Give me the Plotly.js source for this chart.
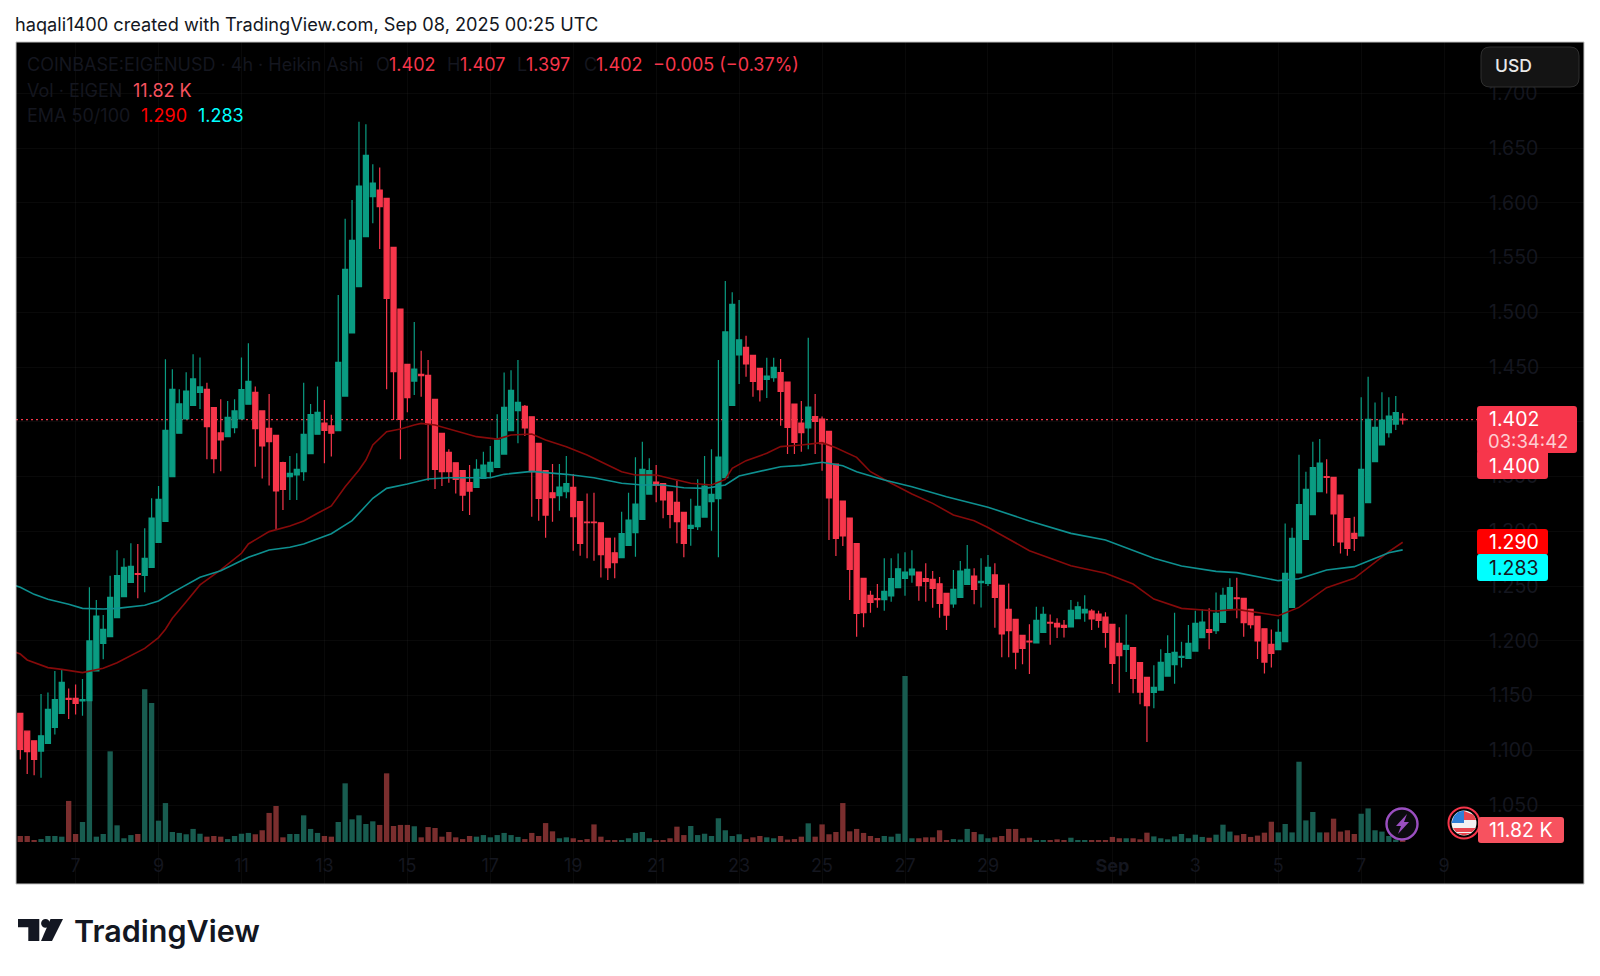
<!DOCTYPE html>
<html>
<head>
    <meta charset='utf-8'>
    <title>COINBASE:EIGENUSD</title>
    <script src="https://cdn.plot.ly/plotly-3.0.1.min.js"></script>
    <style>
        html, body { margin:0; padding:0; background:#fff; }
        #chartDiv { width:1600px; height:976px; }
    </style>
</head>
<body>
    <div id="chartDiv"></div>

    <script>
        // 4h Heikin Ashi candles, first one is Aug 5 16:00 UTC
        const startTime = Date.UTC(2025, 7, 5, 16);
        const opens = [
            1.1337,1.1175,1.1087,1.0993,1.1064,1.1209,1.1337,1.1474,1.1474,1.1452,
            1.1453,1.1724,1.1977,1.2038,1.2211,1.2403,1.2534,1.2613,1.2598,1.2671,
            1.2899,1.3091,1.3499,1.3895,1.4026,1.4150,1.4269,1.4296,1.4129,1.3898,
            1.3864,1.3946,1.4026,1.4160,1.4269,1.4099,1.3940,1.3876,1.3627,1.3499,
            1.3514,1.3545,1.3709,1.3886,1.3989,1.3962,1.3919,1.4235,1.4811,1.5234,
            1.5690,1.6056,1.6116,1.6040,1.5593,1.5030,1.4524,1.4372,1.4433,1.4424,
            1.4205,1.3894,1.3721,1.3626,1.3553,1.3444,1.3401,1.3483,1.3544,1.3584,
            1.3705,1.3919,1.4101,1.4141,1.4046,1.3803,1.3553,1.3352,1.3325,1.3361,
            1.3401,1.3270,1.3084,1.3084,1.3078,1.2935,1.2804,1.2759,1.2871,1.2987,
            1.3109,1.3340,1.3450,1.3435,1.3359,1.3264,1.3173,1.3027,1.3042,1.3130,
            1.3270,1.3298,1.3490,1.4150,1.4610,1.4680,1.4607,1.4488,1.4388,1.4403,
            1.4448,1.4363,1.4162,1.3989,1.3943,1.4047,1.4025,1.3913,1.3614,1.3276,
            1.3121,1.2887,1.2570,1.2415,1.2385,1.2375,1.2409,1.2485,1.2570,1.2601,
            1.2628,1.2567,1.2561,1.2521,1.2433,1.2336,1.2397,1.2515,1.2591,1.2531,
            1.2525,1.2601,1.2506,1.2287,1.2196,1.2050,1.1998,1.1980,1.2077,1.2168,
            1.2159,1.2141,1.2126,1.2202,1.2254,1.2272,1.2244,1.2217,1.2150,1.1977,
            1.1922,1.1937,1.1800,1.1666,1.1529,1.1550,1.1678,1.1782,1.1849,1.1840,
            1.1906,1.2028,1.2101,1.2092,1.2168,1.2293,1.2393,1.2387,1.2287,1.2223,
            1.2110,1.1967,1.1919,1.1992,1.2305,1.2619,1.2926,1.3152,1.3362,1.3499,
            1.3492,1.3331,1.3115,1.2981,1.2957,1.3261,1.3636,1.3788,1.3900,1.3979,
            1.4024];
        const highs = [
            1.1337,1.1175,1.1087,1.1513,1.1528,1.1723,1.1741,1.1565,1.1601,1.1650,
            1.2488,1.2373,1.2236,1.2595,1.2826,1.2753,1.2890,1.2884,1.3027,1.3301,
            1.3414,1.4570,1.4479,1.4296,1.4452,1.4616,1.4586,1.4357,1.4129,1.4205,
            1.4190,1.4205,1.4586,1.4717,1.4321,1.4099,1.4254,1.3876,1.3636,1.3688,
            1.3712,1.4357,1.4163,1.4321,1.4199,1.4065,1.5158,1.5855,1.6025,1.6740,
            1.6716,1.6351,1.6323,1.6040,1.5593,1.5030,1.4524,1.4911,1.4649,1.4564,
            1.4205,1.3894,1.3748,1.3626,1.3553,1.3605,1.3657,1.3727,1.3778,1.4068,
            1.4451,1.4470,1.4564,1.4153,1.4046,1.3803,1.3553,1.3614,1.3614,1.3687,
            1.3523,1.3270,1.3346,1.3352,1.3078,1.2935,1.2944,1.3179,1.3352,1.3675,
            1.3818,1.3666,1.3605,1.3435,1.3359,1.3462,1.3173,1.3298,1.3474,1.3687,
            1.3748,1.4564,1.5286,1.5182,1.5112,1.4786,1.4607,1.4488,1.4585,1.4585,
            1.4573,1.4363,1.4162,1.4190,1.4768,1.4254,1.4047,1.3913,1.3614,1.3276,
            1.3121,1.2887,1.2570,1.2458,1.2518,1.2753,1.2753,1.2798,1.2808,1.2826,
            1.2628,1.2707,1.2637,1.2582,1.2433,1.2646,1.2728,1.2875,1.2662,1.2753,
            1.2783,1.2707,1.2506,1.2524,1.2196,1.2050,1.2150,1.2311,1.2311,1.2241,
            1.2205,1.2190,1.2372,1.2357,1.2415,1.2287,1.2275,1.2260,1.2150,1.2123,
            1.2241,1.1937,1.1800,1.1666,1.1776,1.1922,1.2050,1.2257,1.1992,1.2144,
            1.2275,1.2287,1.2296,1.2442,1.2485,1.2570,1.2576,1.2387,1.2287,1.2223,
            1.2110,1.2104,1.2196,1.3072,1.3033,1.3699,1.3544,1.3818,1.3843,1.3657,
            1.3492,1.3331,1.3115,1.3133,1.4223,1.4412,1.4177,1.4269,1.4223,1.4235,
            1.4077];
        const lows = [
            1.0917,1.0783,1.0773,1.0749,1.1064,1.1145,1.1337,1.1285,1.1327,1.1315,
            1.1453,1.1724,1.1831,1.2038,1.2211,1.2403,1.2534,1.2388,1.2443,1.2671,
            1.2899,1.3091,1.3499,1.3895,1.4026,1.4150,1.4117,1.3657,1.3529,1.3548,
            1.3864,1.3895,1.4026,1.4160,1.3590,1.3481,1.3417,1.3012,1.3195,1.3286,
            1.3286,1.3462,1.3709,1.3886,1.3621,1.3682,1.3919,1.4235,1.4811,1.5234,
            1.5690,1.5812,1.5578,1.4296,1.4016,1.3657,1.4086,1.4244,1.4229,1.3462,
            1.3386,1.3413,1.3444,1.3346,1.3185,1.3148,1.3401,1.3483,1.3492,1.3584,
            1.3705,1.3919,1.3803,1.3870,1.3133,1.3097,1.2941,1.3088,1.3188,1.3301,
            1.2823,1.2777,1.2753,1.2731,1.2579,1.2555,1.2570,1.2759,1.2871,1.2768,
            1.3109,1.3340,1.3264,1.3118,1.3027,1.2890,1.2762,1.2868,1.3012,1.3130,
            1.3005,1.2762,1.3490,1.4150,1.4345,1.4412,1.4229,1.4184,1.4217,1.4366,
            1.3964,1.3706,1.3706,1.3727,1.3748,1.3706,1.3553,1.2920,1.2774,1.2866,
            1.2372,1.2037,1.2123,1.2257,1.2302,1.2275,1.2357,1.2485,1.2412,1.2531,
            1.2366,1.2357,1.2302,1.2211,1.2098,1.2302,1.2397,1.2515,1.2333,1.2305,
            1.2500,1.2120,1.1849,1.1849,1.1739,1.1785,1.1696,1.1980,1.2077,1.1964,
            1.2025,1.2031,1.2126,1.2202,1.2174,1.2098,1.2120,1.1937,1.1605,1.1526,
            1.1715,1.1520,1.1420,1.1075,1.1383,1.1550,1.1678,1.1608,1.1757,1.1840,
            1.1906,1.2028,1.1922,1.2062,1.2168,1.2293,1.2205,1.2037,1.2113,1.1833,
            1.1702,1.1757,1.1919,1.1992,1.2305,1.2619,1.2926,1.3152,1.3362,1.3346,
            1.2865,1.2798,1.2777,1.2820,1.2957,1.3261,1.3636,1.3788,1.3857,1.3924,
            1.3976];
        const closes = [
            1.1008,1.0987,1.0917,1.1133,1.1374,1.1464,1.1620,1.1465,1.1428,1.1464,
            1.1999,1.2226,1.2105,1.2397,1.2595,1.2671,1.2680,1.2607,1.2753,1.3121,
            1.3292,1.3922,1.4296,1.4163,1.4281,1.4391,1.4318,1.3956,1.3663,1.3834,
            1.4041,1.4099,1.4293,1.4370,1.3937,1.3779,1.3819,1.3368,1.3383,1.3529,
            1.3566,1.3886,1.4065,1.4086,1.3922,1.3895,1.4543,1.5392,1.5657,1.6153,
            1.6433,1.6180,1.5964,1.5127,1.4457,1.4022,1.4220,1.4482,1.4421,1.3979,
            1.3565,1.3544,1.3544,1.3474,1.3331,1.3367,1.3565,1.3605,1.3629,1.3833,
            1.4132,1.4287,1.4177,1.3943,1.3544,1.3300,1.3148,1.3307,1.3404,1.3435,
            1.3133,1.2890,1.3078,1.3078,1.2786,1.2667,1.2713,1.2978,1.3103,1.3249,
            1.3566,1.3553,1.3422,1.3286,1.3155,1.3088,1.2890,1.3054,1.3228,1.3413,
            1.3337,1.3678,1.4820,1.5072,1.4747,1.4528,1.4369,1.4293,1.4418,1.4497,
            1.4278,1.3949,1.3812,1.3900,1.4135,1.4004,1.3800,1.3304,1.2935,1.2957,
            1.2652,1.2251,1.2257,1.2351,1.2375,1.2451,1.2567,1.2658,1.2628,1.2655,
            1.2503,1.2543,1.2479,1.2342,1.2235,1.2470,1.2637,1.2652,1.2470,1.2543,
            1.2671,1.2397,1.2062,1.2092,1.1897,1.1931,1.1989,1.2187,1.2241,1.2162,
            1.2126,1.2123,1.2278,1.2311,1.2287,1.2199,1.2187,1.2077,1.1794,1.1864,
            1.1958,1.1657,1.1532,1.1407,1.1575,1.1803,1.1882,1.1894,1.1858,1.1977,
            1.2159,1.2171,1.2077,1.2250,1.2415,1.2485,1.2384,1.2165,1.2147,1.1998,
            1.1806,1.1885,1.2077,1.2616,1.2935,1.3243,1.3383,1.3581,1.3623,1.3492,
            1.3158,1.2902,1.2844,1.2935,1.3566,1.4022,1.3949,1.4016,1.4052,1.4083,
            1.4018];
        // volume in thousands
        const volumes = [
            45,45,12,22,45,45,40,308,60,150,
            1125,40,60,680,125,28,52,60,1145,1042,
            160,292,75,68,58,98,62,40,45,40,
            22,45,62,68,58,88,218,270,35,60,
            60,200,98,68,45,40,150,440,170,200,
            135,155,128,515,120,128,128,118,35,112,
            105,40,75,35,22,45,40,52,35,52,
            68,52,38,22,68,45,142,80,28,35,
            28,12,22,132,40,15,15,15,28,68,
            75,28,15,12,28,115,52,120,52,62,
            45,178,88,45,58,22,35,45,35,28,
            45,18,22,40,140,40,132,58,75,292,
            80,98,68,45,30,45,40,62,1245,28,
            28,35,35,88,15,22,18,98,75,58,
            28,35,45,98,98,28,32,15,15,12,
            20,12,32,15,15,15,10,15,38,28,
            28,28,20,70,42,28,20,42,60,28,
            55,38,32,55,130,78,50,60,38,48,
            70,152,72,135,72,602,162,225,72,72,
            175,78,88,60,212,252,88,78,45,18,
            11.82];

        // EMA lines at these candle numbers (-1 is the left edge)
        const ema50Idx = [-1,0,1,4,6,9,12,14,18,20,21,22,24,26,29,32,33,36,39,41,43,45,47,49,50,51,53,55,57,58,60,63,66,69,71,74,76,79,82,84,87,89,92,95,97,100,102,103,105,108,110,113,116,118,121,123,126,129,132,135,138,140,146,152,157,161,164,168,173,176,182,185,189,193,198,200];
        const ema50 = [1.1905,1.1879,1.1825,1.1755,1.1739,1.1709,1.1749,1.1800,1.1931,1.2029,1.2105,1.2205,1.2357,1.2510,1.2647,1.2799,1.2884,1.2997,1.3048,1.3094,1.3164,1.3231,1.3407,1.3560,1.3651,1.3788,1.3909,1.3934,1.3970,1.3985,1.3970,1.3919,1.3864,1.3842,1.3879,1.3888,1.3833,1.3772,1.3696,1.3635,1.3544,1.3514,1.3514,1.3468,1.3438,1.3423,1.3474,1.3575,1.3645,1.3712,1.3773,1.3788,1.3809,1.3763,1.3675,1.3544,1.3438,1.3340,1.3255,1.3149,1.3097,1.3035,1.2823,1.2686,1.2616,1.2518,1.2381,1.2296,1.2272,1.2287,1.2229,1.2305,1.2485,1.2570,1.2814,1.2900];
        const ema100Idx = [-1,0,2,4,7,9,12,14,18,20,22,26,29,33,36,39,41,45,48,51,53,56,59,62,68,70,74,79,83,87,90,93,96,99,100,102,104,110,113,116,119,121,125,129,134,138,140,146,152,157,164,168,173,176,182,185,189,193,198,200];
        const ema100 = [1.2510,1.2488,1.2424,1.2379,1.2333,1.2296,1.2290,1.2296,1.2324,1.2363,1.2440,1.2580,1.2640,1.2762,1.2829,1.2854,1.2884,1.2978,1.3097,1.3301,1.3392,1.3431,1.3477,1.3489,1.3489,1.3520,1.3547,1.3520,1.3489,1.3438,1.3422,1.3423,1.3398,1.3392,1.3401,1.3423,1.3505,1.3590,1.3602,1.3630,1.3599,1.3544,1.3468,1.3407,1.3316,1.3255,1.3220,1.3094,1.2981,1.2920,1.2753,1.2683,1.2634,1.2622,1.2549,1.2567,1.2646,1.2677,1.2804,1.2830];

        const dayTicks = ["2025-08-07","2025-08-09","2025-08-11","2025-08-13","2025-08-15","2025-08-17","2025-08-19","2025-08-21","2025-08-23","2025-08-25","2025-08-27","2025-08-29","2025-09-01","2025-09-03","2025-09-05","2025-09-07","2025-09-09"];
        const dayLabels = ["7","9","11","13","15","17","19","21","23","25","27","29","<b>Sep</b>","3","5","7","9"];
        const priceTicks = [1.05,1.10,1.15,1.20,1.25,1.30,1.35,1.40,1.45,1.50,1.55,1.60,1.65,1.70];

        const GREEN = "#0a9c82";
        const RED = "#f7364b";
        const DIM = "#14161f";
        const FONT = "Inter, 'Noto Sans', sans-serif";

        const timeOf = (i) => new Date(startTime + i*4*3600*1000).toISOString();
        const times = opens.map((v,i) => timeOf(i));

        // pixel -> paper, the plot area is 16..1584 x 42..884
        const px = (x) => (x-16)/1568;
        const py = (y) => (884-y)/842;

        const volumeTrace = {
            type:'bar', x:times, y:volumes, xaxis:'x', yaxis:'y',
            marker:{ color:closes.map((c,i) => c >= opens[i] ? "#185c50" : "#7a2e2e"), line:{width:0} },
            hoverinfo:'skip'
        };
        const candleTrace = {
            type:'candlestick', x:times, open:opens, high:highs, low:lows, close:closes,
            xaxis:'x', yaxis:'y2', whiskerwidth:0,
            increasing:{ line:{color:GREEN, width:1.2}, fillcolor:GREEN },
            decreasing:{ line:{color:RED, width:1.2}, fillcolor:RED }
        };
        const ema50Trace = {
            type:'scatter', mode:'lines', x:ema50Idx.map(timeOf), y:ema50, xaxis:'x', yaxis:'y2',
            line:{color:"#860a0a", width:1.6}, hoverinfo:'skip'
        };
        const ema100Trace = {
            type:'scatter', mode:'lines', x:ema100Idx.map(timeOf), y:ema100, xaxis:'x', yaxis:'y2',
            line:{color:"#0e9090", width:1.6}, hoverinfo:'skip'
        };

        const label = (x, y, text, color, size, extra) => Object.assign({
            xref:'paper', yref:'paper', x:px(x), y:py(y), text:text, showarrow:false,
            xanchor:'left', yanchor:'middle', font:{family:FONT, size:size || 18, color:color}
        }, extra || {});

        // rectangle with rounded corners
        const box = (x0, y0, x1, y1, fill, r, line) => {
            const P = (x,y) => px(x)+','+py(y);
            return {
                type:'path', xref:'paper', yref:'paper', layer:'above', fillcolor:fill, line:line || {width:0},
                path:'M'+P(x0+r,y0)+' L'+P(x1-r,y0)+' Q'+P(x1,y0)+' '+P(x1,y0+r)+' L'+P(x1,y1-r)+' Q'+P(x1,y1)+' '+P(x1-r,y1)
                    +' L'+P(x0+r,y1)+' Q'+P(x0,y1)+' '+P(x0,y1-r)+' L'+P(x0,y0+r)+' Q'+P(x0,y0)+' '+P(x0+r,y0)+' Z'
            };
        };
        const disc = (cx, cy, r, fill, line) => ({
            type:'circle', xref:'paper', yref:'paper', x0:px(cx-r), x1:px(cx+r), y0:py(cy-r), y1:py(cy+r),
            fillcolor:fill, line:line || {width:0}, layer:'above'
        });
        const poly = (points, fill) => ({
            type:'path', xref:'paper', yref:'paper', layer:'above', fillcolor:fill, line:{width:0},
            path:'M'+points.map(p => px(p[0])+','+py(p[1])).join(' L')+' Z'
        });

        const shapes = [
            // current price line
            { type:'line', xref:'paper', yref:'y2', x0:0, x1:px(1477), y0:1.402, y1:1.402,
              line:{color:RED, width:1.4, dash:'2px,3px'}, layer:'below' },
            // USD button
            box(1481, 47, 1579, 87, "#141414", 9, {color:"#2f2f2f", width:1}),
            // bolt marker
            disc(1402, 824, 15.5, "#0b0b0f", {color:"#9a4fc0", width:2.4}),
            poly([[1407,814],[1396,826],[1401,826],[1398,834],[1409,822],[1404,822]], "#9a4fc0"),
            // flag marker
            disc(1464, 823, 15.5, "#000", {color:RED, width:2}),
            disc(1464, 823, 12.5, "#f2f2f2"),
            poly([[1464,811],[1474,815],[1476,820],[1464,820]], "#e8454f"),
            poly([[1453,828],[1476,828],[1472,832],[1456,832]], "#e8454f"),
            poly([[1456,833],[1472,833],[1464,835.5]], "#e8454f"),
            poly([[1464,810.5],[1464,823],[1451.5,823],[1454,816],[1458,812]], "#2f7fd6"),
            // price badges
            box(1477, 406, 1577, 453, RED, 3),
            box(1477, 450, 1548, 479, RED, 3),
            box(1477, 529, 1548, 555, "#ff0000", 3),
            box(1477, 554, 1548, 581, "#00ffff", 3),
            box(1478, 817, 1564, 843, "#f7525f", 3),
            // frame
            { type:'rect', xref:'paper', yref:'paper', x0:0, x1:1, y0:0, y1:1, line:{color:"#c4c4c4", width:1}, layer:'above' },
            // TradingView mark
            poly([[18,919],[39.3,919],[39.3,941],[28.3,941],[28.3,927.3],[18,927.3]], "#131722"),
            disc(45.5, 923.3, 4.4, "#131722"),
            poly([[50.5,919],[63,919],[52,941],[41,941]], "#131722")
        ];

        const annotations = [
            label(13, 24, "haqali1400 created with TradingView.com, Sep 08, 2025 00:25 UTC", "#131722", 18.2),
            // legend rows
            label(25, 65, "COINBASE:EIGENUSD · 4h · Heikin Ashi", DIM),
            label(374, 65, "O", DIM), label(387, 65, "1.402", RED),
            label(445, 65, "H", DIM), label(458, 65, "1.407", RED),
            label(515, 65, "L", DIM), label(524, 65, "1.397", RED),
            label(582, 65, "C", DIM), label(594, 65, "1.402", RED),
            label(651, 65, "−0.005 (−0.37%)", RED),
            label(25, 91, "Vol · EIGEN", DIM),
            label(131, 91, "11.82 K", "#f7525f"),
            label(25, 116, "EMA 50/100", DIM),
            label(139, 116, "1.290", "#ff0000"),
            label(196, 116, "1.283", "#00ffff"),
            // badges
            label(1493, 66, "USD", "#e8e8e8", 17.5, {font:{family:FONT, size:17.5, color:"#e8e8e8", weight:500}}),
            label(1487, 419, "1.402", "#ffffff", 19.5),
            label(1486, 441, "03:34:42", "rgba(255,255,255,0.75)", 18.5),
            label(1487, 466, "1.400", "#ffffff", 19.5),
            label(1487, 542, "1.290", "#ffffff", 19.5),
            label(1487, 568, "1.283", "#131722", 19.5),
            label(1487, 830, "11.82 K", "#ffffff", 19.5),
            // wordmark
            label(72, 930, "TradingView", "#131722", 30.5, {font:{family:FONT, size:30.5, color:"#131722", weight:600}})
        ];

        const layout = {
            width:1600, height:976,
            margin:{l:16, r:16, t:42, b:92},
            paper_bgcolor:"#ffffff", plot_bgcolor:"#000000",
            showlegend:false, bargap:0.23, boxgap:0.27, boxgroupgap:0,
            font:{family:FONT},
            xaxis:{
                type:'date', range:["2025-08-05 13:31","2025-09-12 08:56"],
                rangeslider:{visible:false}, anchor:'free', position:(884-853)/842,
                tickmode:'array', tickvals:dayTicks, ticktext:dayLabels, ticks:'',
                tickfont:{family:FONT, size:18, color:DIM},
                showgrid:true, gridcolor:"rgba(255,255,255,0.035)", zeroline:false, showline:false
            },
            yaxis:{ domain:[0,1], range:[-315,6000], visible:false, fixedrange:true },
            yaxis2:{
                overlaying:'y', side:'right', anchor:'free', position:px(1488),
                range:[0.9779,1.7468], tickmode:'array', tickvals:priceTicks,
                ticktext:priceTicks.map(v => v.toFixed(3)), ticks:'',
                tickfont:{family:FONT, size:19.5, color:DIM},
                showgrid:true, gridcolor:"rgba(255,255,255,0.035)", zeroline:false, showline:false
            },
            shapes:shapes, annotations:annotations
        };

        Plotly.newPlot("chartDiv", [volumeTrace, candleTrace, ema50Trace, ema100Trace], layout, {displayModeBar:false});
    </script>
</body>
</html>
